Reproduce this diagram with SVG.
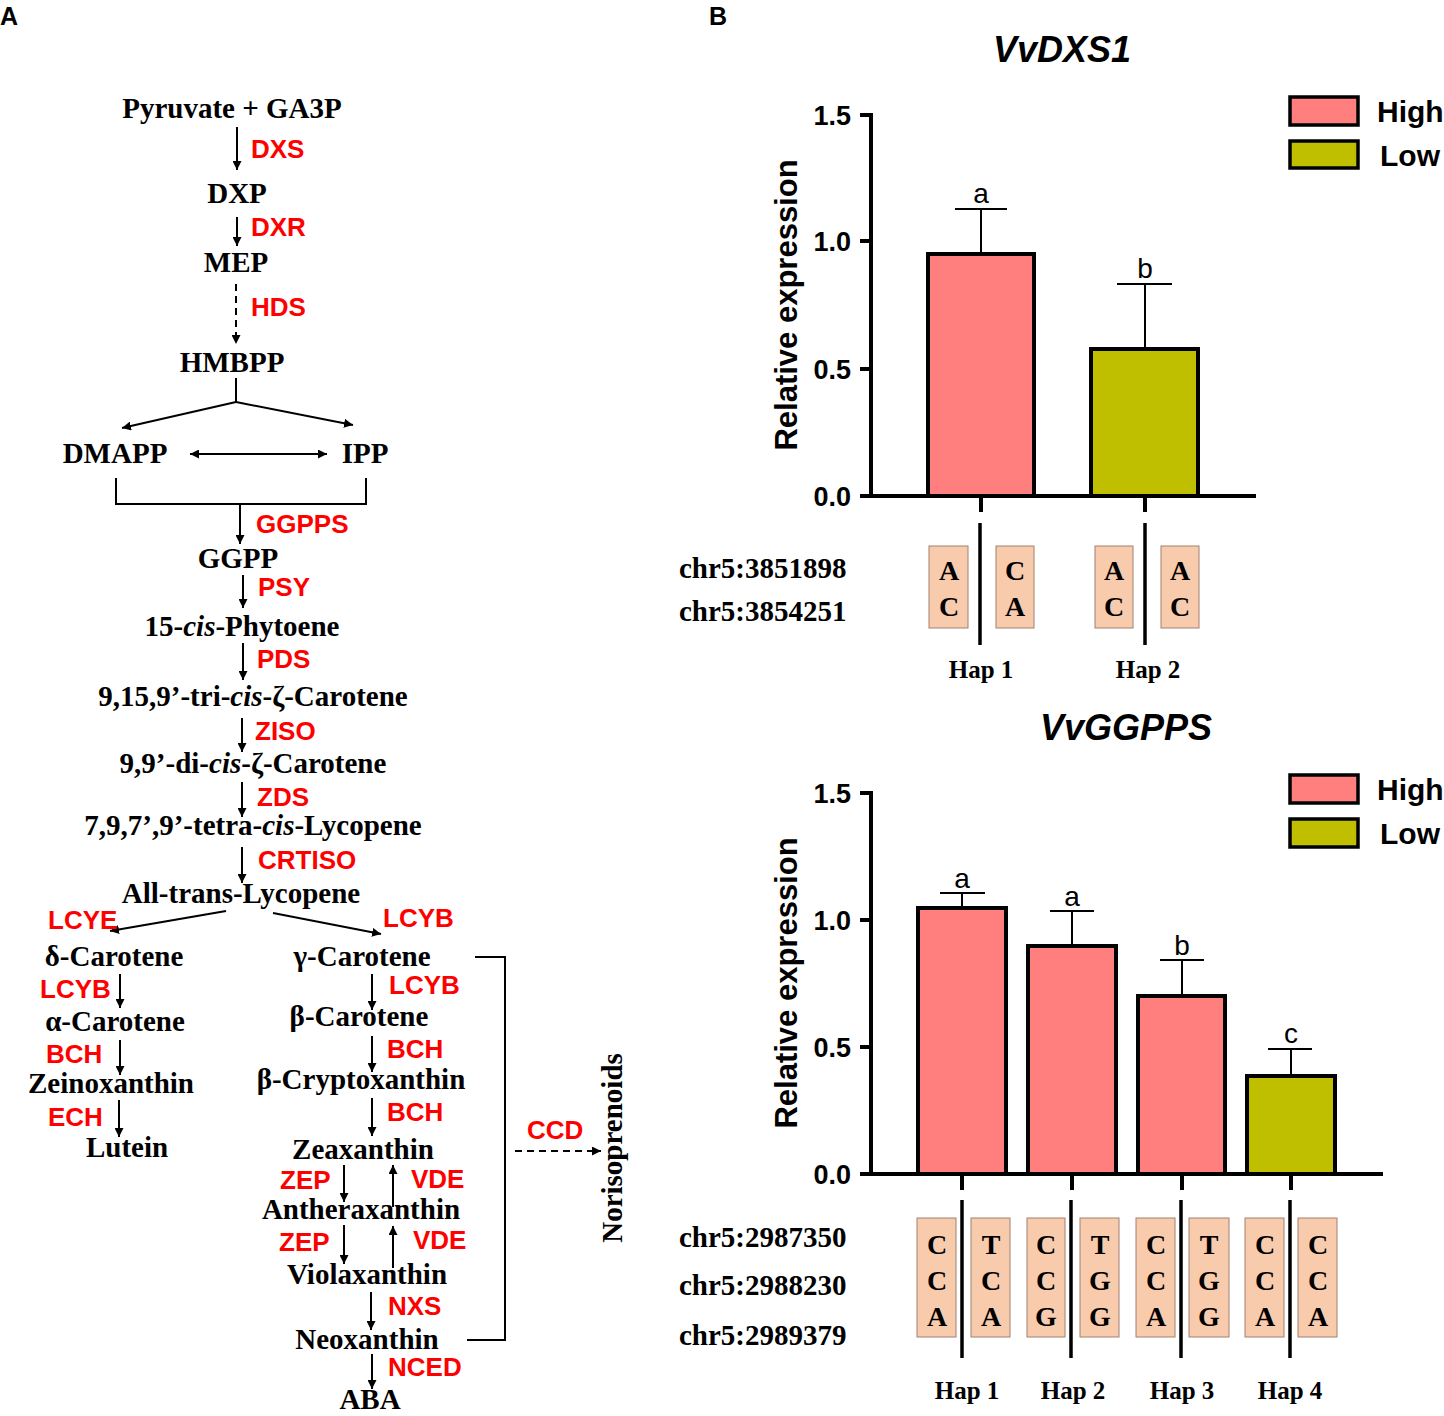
<svg xmlns="http://www.w3.org/2000/svg" width="1444" height="1416" viewBox="0 0 1444 1416">
<style>
.m{font-family:"Liberation Serif","Times New Roman",serif;font-weight:bold;font-size:29px;fill:#000;text-anchor:middle}
.e{font-family:"Liberation Sans",Arial,sans-serif;font-weight:bold;font-size:26px;fill:#FF0000}
.pl{font-family:"Liberation Sans",Arial,sans-serif;font-weight:bold;font-size:25px;fill:#000}
.ln{stroke:#000;stroke-width:2;fill:none}
.ar{stroke:#000;stroke-width:2;fill:none;marker-end:url(#ah)}
.tick{font-family:"Liberation Sans",Arial,sans-serif;font-weight:bold;font-size:27px;text-anchor:end}
.ylab{font-family:"Liberation Sans",Arial,sans-serif;font-weight:bold;font-size:31px;text-anchor:middle}
.ttl{font-family:"Liberation Sans",Arial,sans-serif;font-weight:bold;font-style:italic;font-size:36px}
.leg{font-family:"Liberation Sans",Arial,sans-serif;font-weight:bold;font-size:30px}
.ax{stroke:#000;stroke-width:4;fill:none}
.hi{fill:#FF7F7F;stroke:#000;stroke-width:4}
.lo{fill:#BFBF00;stroke:#000;stroke-width:4}
.eb{stroke:#000;stroke-width:2;fill:none}
.sig{font-family:"Liberation Sans",Arial,sans-serif;font-size:28px;text-anchor:middle}
.box{fill:#F8CBAD;stroke:#A08070;stroke-width:1}
.nt{font-family:"Liberation Serif","Times New Roman",serif;font-weight:bold;font-size:28px;text-anchor:middle}
.chr{font-family:"Liberation Serif","Times New Roman",serif;font-weight:bold;font-size:29px}
.hap{font-family:"Liberation Serif","Times New Roman",serif;font-weight:bold;font-size:25px;text-anchor:middle}
.vl{stroke:#000;stroke-width:3.5}
</style>
<defs>
<marker id="ah" viewBox="0 0 10 10" refX="10" refY="5" markerWidth="9" markerHeight="9" markerUnits="userSpaceOnUse" orient="auto-start-reverse">
<path d="M0,0 L10,5 L0,10 z" fill="#000"/>
</marker>
</defs>
<rect width="1444" height="1416" fill="#fff"/>
<text class="pl" x="0" y="25">A</text>
<text class="pl" x="709" y="25">B</text>

<!-- Pathway connectors -->
<g id="connectors">
<line class="ar" x1="237" y1="127" x2="237" y2="170"/>
<line class="ar" x1="237" y1="217" x2="237" y2="246"/>
<line class="ar" x1="236" y1="284" x2="236" y2="344" stroke-dasharray="7,5"/>
<polyline class="ln" points="236,378 236,402"/>
<line class="ar" x1="236" y1="402" x2="122" y2="428"/>
<line class="ar" x1="236" y1="402" x2="353" y2="425"/>
<line class="ar" x1="190" y1="454" x2="327" y2="454" style="marker-start:url(#ah)"/>
<polyline class="ln" points="116,478 116,504 366,504 366,478"/>
<line class="ar" x1="240" y1="504" x2="240" y2="544"/>
<line class="ar" x1="243" y1="575" x2="243" y2="608"/>
<line class="ar" x1="243" y1="643" x2="243" y2="680"/>
<line class="ar" x1="242" y1="718" x2="242" y2="752"/>
<line class="ar" x1="242" y1="782" x2="242" y2="817"/>
<line class="ar" x1="242" y1="847" x2="242" y2="883"/>
<line class="ar" x1="226" y1="911" x2="110" y2="931"/>
<line class="ar" x1="273" y1="913" x2="381" y2="934"/>
<line class="ar" x1="120" y1="974" x2="120" y2="1008"/>
<line class="ar" x1="120" y1="1040" x2="120" y2="1075"/>
<line class="ar" x1="119" y1="1100" x2="119" y2="1137"/>
<line class="ar" x1="372" y1="974" x2="372" y2="1010"/>
<line class="ar" x1="372" y1="1036" x2="372" y2="1072"/>
<line class="ar" x1="372" y1="1098" x2="372" y2="1136"/>
<line class="ar" x1="344" y1="1165" x2="344" y2="1202"/>
<line class="ar" x1="393" y1="1207" x2="393" y2="1165"/>
<line class="ar" x1="344" y1="1225" x2="344" y2="1264"/>
<line class="ar" x1="393" y1="1268" x2="393" y2="1226"/>
<line class="ar" x1="371" y1="1292" x2="371" y2="1330"/>
<line class="ar" x1="372" y1="1354" x2="372" y2="1389"/>
<polyline class="ln" points="475,957 505,957 505,1340 467,1340"/>
<line class="ar" x1="515" y1="1151" x2="601" y2="1151" stroke-dasharray="7,5"/>
</g>

<!-- Enzyme labels -->
<g id="enzymes">
<text class="e" x="251" y="158">DXS</text>
<text class="e" x="251" y="236">DXR</text>
<text class="e" x="251" y="316">HDS</text>
<text class="e" x="256" y="533">GGPPS</text>
<text class="e" x="258" y="596">PSY</text>
<text class="e" x="257" y="668">PDS</text>
<text class="e" x="255" y="740">ZISO</text>
<text class="e" x="257" y="806">ZDS</text>
<text class="e" x="258" y="869">CRTISO</text>
<text class="e" x="48" y="929">LCYE</text>
<text class="e" x="383" y="927">LCYB</text>
<text class="e" x="40" y="998">LCYB</text>
<text class="e" x="46" y="1063">BCH</text>
<text class="e" x="48" y="1126">ECH</text>
<text class="e" x="389" y="994">LCYB</text>
<text class="e" x="387" y="1058">BCH</text>
<text class="e" x="387" y="1121">BCH</text>
<text class="e" x="280" y="1189">ZEP</text>
<text class="e" x="411" y="1188">VDE</text>
<text class="e" x="279" y="1251">ZEP</text>
<text class="e" x="413" y="1249">VDE</text>
<text class="e" x="388" y="1315">NXS</text>
<text class="e" x="388" y="1376">NCED</text>
<text class="e" x="527" y="1139">CCD</text>
</g>

<!-- Metabolite nodes -->
<g id="n-pyruvate"><text class="m" x="232" y="118">Pyruvate + GA3P</text></g>
<g id="n-dxp"><text class="m" x="237" y="203">DXP</text></g>
<g id="n-mep"><text class="m" x="236" y="272">MEP</text></g>
<g id="n-hmbpp"><text class="m" x="232" y="372">HMBPP</text></g>
<g id="n-dmapp"><text class="m" x="115" y="463">DMAPP</text></g>
<g id="n-ipp"><text class="m" x="365" y="463">IPP</text></g>
<g id="n-ggpp"><text class="m" x="238" y="568">GGPP</text></g>
<g id="n-phytoene"><text class="m" x="242" y="636">15-<tspan font-style="italic">cis</tspan>-Phytoene</text></g>
<g id="n-tricis"><text class="m" x="253" y="706">9,15,9’-tri-<tspan font-style="italic">cis</tspan>-ζ-Carotene</text></g>
<g id="n-dicis"><text class="m" x="253" y="773">9,9’-di-<tspan font-style="italic">cis</tspan>-ζ-Carotene</text></g>
<g id="n-tetracis"><text class="m" x="253" y="835">7,9,7’,9’-tetra-<tspan font-style="italic">cis</tspan>-Lycopene</text></g>
<g id="n-lycopene"><text class="m" x="241" y="903">All-trans-Lycopene</text></g>
<g id="n-delta"><text class="m" x="114" y="966">δ-Carotene</text></g>
<g id="n-alpha"><text class="m" x="115" y="1031">α-Carotene</text></g>
<g id="n-zeino"><text class="m" x="111" y="1093">Zeinoxanthin</text></g>
<g id="n-lutein"><text class="m" x="127" y="1157">Lutein</text></g>
<g id="n-gamma"><text class="m" x="362" y="966">γ-Carotene</text></g>
<g id="n-beta"><text class="m" x="359" y="1026">β-Carotene</text></g>
<g id="n-crypto"><text class="m" x="361" y="1089">β-Cryptoxanthin</text></g>
<g id="n-zea"><text class="m" x="363" y="1159">Zeaxanthin</text></g>
<g id="n-anthera"><text class="m" x="361" y="1219">Antheraxanthin</text></g>
<g id="n-viola"><text class="m" x="367" y="1284">Violaxanthin</text></g>
<g id="n-neo"><text class="m" x="367" y="1349">Neoxanthin</text></g>
<g id="n-aba"><text class="m" x="370" y="1409">ABA</text></g>
<g id="n-noriso"><text class="m" transform="translate(622,1148) rotate(-90)">Norisoprenoids</text></g>

<!-- Chart 1: VvDXS1 -->
<g id="chart-dxs1">
<text class="ttl" x="993" y="62">VvDXS1</text>
<text class="ylab" transform="translate(797,305) rotate(-90)">Relative expression</text>
<path class="ax" d="M871,113 V496 H1256"/>
<path class="ax" d="M860,115 H871 M860,241 H871 M860,369 H871 M860,496 H871 M981,496 V512 M1145,496 V512"/>
<text class="tick" x="851" y="125">1.5</text>
<text class="tick" x="851" y="251">1.0</text>
<text class="tick" x="851" y="379">0.5</text>
<text class="tick" x="851" y="506">0.0</text>
<path class="eb" d="M981,254 V209 M955,209 H1007"/>
<path class="eb" d="M1145,349 V284 M1117,284 H1172"/>
<rect class="hi" x="928" y="254" width="106" height="242"/>
<rect class="lo" x="1091" y="349" width="107" height="147"/>
<text class="sig" x="981" y="203">a</text>
<text class="sig" x="1145" y="278">b</text>
<rect class="hi" x="1290" y="97" width="68" height="28" style="stroke-width:3.5"/>
<rect class="lo" x="1290" y="141" width="68" height="27" style="stroke-width:3.5"/>
<text class="leg" x="1377" y="122">High</text>
<text class="leg" x="1380" y="166">Low</text>
<line class="vl" x1="980" y1="523" x2="980" y2="645"/>
<line class="vl" x1="1145" y1="523" x2="1145" y2="645"/>
<rect class="box" x="929" y="546" width="39" height="82"/>
<rect class="box" x="996" y="546" width="38" height="82"/>
<rect class="box" x="1095" y="546" width="38" height="82"/>
<rect class="box" x="1161" y="546" width="38" height="82"/>
<text class="nt" x="949" y="580">A</text><text class="nt" x="949" y="616">C</text>
<text class="nt" x="1015" y="580">C</text><text class="nt" x="1015" y="616">A</text>
<text class="nt" x="1114" y="580">A</text><text class="nt" x="1114" y="616">C</text>
<text class="nt" x="1180" y="580">A</text><text class="nt" x="1180" y="616">C</text>
<text class="chr" x="679" y="578">chr5:3851898</text>
<text class="chr" x="679" y="621">chr5:3854251</text>
<text class="hap" x="981" y="678">Hap 1</text>
<text class="hap" x="1148" y="678">Hap 2</text>
</g>

<!-- Chart 2: VvGGPPS -->
<g id="chart-ggpps">
<text class="ttl" x="1040" y="740">VvGGPPS</text>
<text class="ylab" transform="translate(797,983) rotate(-90)">Relative expression</text>
<path class="ax" d="M871,791 V1174 H1383"/>
<path class="ax" d="M860,793 H871 M860,920 H871 M860,1047 H871 M860,1174 H871 M962,1174 V1190 M1072,1174 V1190 M1182,1174 V1190 M1291,1174 V1190"/>
<text class="tick" x="851" y="803">1.5</text>
<text class="tick" x="851" y="930">1.0</text>
<text class="tick" x="851" y="1057">0.5</text>
<text class="tick" x="851" y="1184">0.0</text>
<path class="eb" d="M962,908 V893 M940,893 H985"/>
<path class="eb" d="M1072,946 V911 M1050,911 H1094"/>
<path class="eb" d="M1182,996 V960 M1160,960 H1204"/>
<path class="eb" d="M1291,1076 V1049 M1268,1049 H1312"/>
<rect class="hi" x="918" y="908" width="88" height="266"/>
<rect class="hi" x="1028" y="946" width="88" height="228"/>
<rect class="hi" x="1138" y="996" width="87" height="178"/>
<rect class="lo" x="1247" y="1076" width="88" height="98"/>
<text class="sig" x="962" y="888">a</text>
<text class="sig" x="1072" y="906">a</text>
<text class="sig" x="1182" y="955">b</text>
<text class="sig" x="1291" y="1043">c</text>
<rect class="hi" x="1290" y="775" width="68" height="28" style="stroke-width:3.5"/>
<rect class="lo" x="1290" y="819" width="68" height="28" style="stroke-width:3.5"/>
<text class="leg" x="1377" y="800">High</text>
<text class="leg" x="1380" y="844">Low</text>
<line class="vl" x1="962" y1="1200" x2="962" y2="1358"/>
<line class="vl" x1="1071" y1="1200" x2="1071" y2="1358"/>
<line class="vl" x1="1181" y1="1200" x2="1181" y2="1358"/>
<line class="vl" x1="1290" y1="1200" x2="1290" y2="1358"/>
<rect class="box" x="917" y="1218" width="39" height="119"/>
<rect class="box" x="971" y="1218" width="39" height="119"/>
<rect class="box" x="1027" y="1218" width="38" height="119"/>
<rect class="box" x="1080" y="1218" width="39" height="119"/>
<rect class="box" x="1136" y="1218" width="39" height="119"/>
<rect class="box" x="1189" y="1218" width="40" height="119"/>
<rect class="box" x="1245" y="1218" width="39" height="119"/>
<rect class="box" x="1298" y="1218" width="39" height="119"/>
<text class="nt" x="937" y="1254">C</text><text class="nt" x="937" y="1290">C</text><text class="nt" x="937" y="1326">A</text>
<text class="nt" x="991" y="1254">T</text><text class="nt" x="991" y="1290">C</text><text class="nt" x="991" y="1326">A</text>
<text class="nt" x="1046" y="1254">C</text><text class="nt" x="1046" y="1290">C</text><text class="nt" x="1046" y="1326">G</text>
<text class="nt" x="1100" y="1254">T</text><text class="nt" x="1100" y="1290">G</text><text class="nt" x="1100" y="1326">G</text>
<text class="nt" x="1156" y="1254">C</text><text class="nt" x="1156" y="1290">C</text><text class="nt" x="1156" y="1326">A</text>
<text class="nt" x="1209" y="1254">T</text><text class="nt" x="1209" y="1290">G</text><text class="nt" x="1209" y="1326">G</text>
<text class="nt" x="1265" y="1254">C</text><text class="nt" x="1265" y="1290">C</text><text class="nt" x="1265" y="1326">A</text>
<text class="nt" x="1318" y="1254">C</text><text class="nt" x="1318" y="1290">C</text><text class="nt" x="1318" y="1326">A</text>
<text class="chr" x="679" y="1247">chr5:2987350</text>
<text class="chr" x="679" y="1295">chr5:2988230</text>
<text class="chr" x="679" y="1345">chr5:2989379</text>
<text class="hap" x="967" y="1399">Hap 1</text>
<text class="hap" x="1073" y="1399">Hap 2</text>
<text class="hap" x="1182" y="1399">Hap 3</text>
<text class="hap" x="1290" y="1399">Hap 4</text>
</g>
</svg>
